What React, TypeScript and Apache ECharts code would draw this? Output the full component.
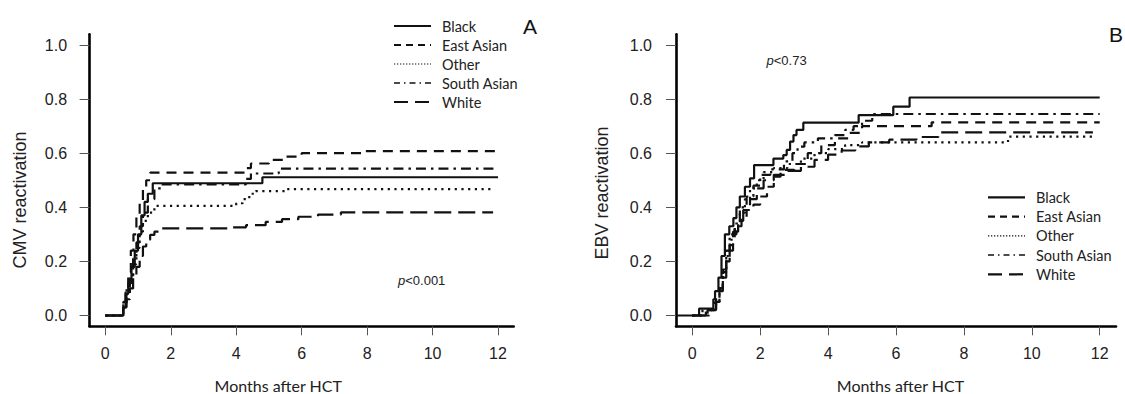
import React, { useEffect, useRef } from "react";
import * as echarts from "echarts";

// ---------- Data ----------
const groups = ["Black", "East Asian", "Other", "South Asian", "White"];
const xTicks = [0, 2, 4, 6, 8, 10, 12];
const yTicks = [0, 0.2, 0.4, 0.6, 0.8, 1.0];

// Panel A: CMV reactivation (months, cumulative incidence)
const cmvBlackT = [0, 0.55, 0.62, 0.7, 0.8, 0.9, 1.0, 1.1, 1.2, 1.3, 1.45, 4.8, 12];
const cmvBlackV = [0, 0.03, 0.08, 0.12, 0.18, 0.24, 0.3, 0.37, 0.42, 0.45, 0.489, 0.511, 0.511];
const cmvEastT = [0, 0.55, 0.62, 0.7, 0.78, 0.86, 0.95, 1.05, 1.15, 1.25, 1.37, 4.3, 4.45, 5.0, 5.5, 6.0, 7.9, 12];
const cmvEastV = [0, 0.05, 0.1, 0.16, 0.24, 0.3, 0.37, 0.42, 0.47, 0.5, 0.528, 0.545, 0.562, 0.575, 0.587, 0.6, 0.608, 0.608];
const cmvOtherT = [0, 0.55, 0.65, 0.75, 0.85, 0.95, 1.05, 1.15, 1.3, 1.5, 4.0, 4.2, 4.4, 4.6, 5.5, 11.85];
const cmvOtherV = [0, 0.04, 0.08, 0.13, 0.19, 0.25, 0.31, 0.35, 0.38, 0.405, 0.415, 0.43, 0.45, 0.46, 0.467, 0.467];
const cmvSouthT = [0, 0.55, 0.65, 0.75, 0.85, 0.95, 1.05, 1.15, 1.3, 1.5, 1.7, 4.3, 4.45, 5.3, 12];
const cmvSouthV = [0, 0.05, 0.1, 0.15, 0.21, 0.27, 0.33, 0.38, 0.43, 0.47, 0.485, 0.505, 0.525, 0.543, 0.543];
const cmvWhiteT = [0, 0.55, 0.65, 0.75, 0.85, 0.95, 1.05, 1.15, 1.25, 1.37, 1.5, 1.7, 3.9, 4.3, 4.9, 5.4, 5.9, 6.5, 7.2, 11.85];
const cmvWhiteV = [0, 0.03, 0.06, 0.1, 0.14, 0.18, 0.22, 0.255, 0.28, 0.298, 0.31, 0.322, 0.326, 0.334, 0.346, 0.356, 0.365, 0.373, 0.381, 0.381];

// Panel B: EBV reactivation
const ebvBlackT = [-0.45, 0.2, 0.62, 0.67, 0.77, 0.86, 0.96, 1.09, 1.21, 1.3, 1.4, 1.55, 1.7, 1.82, 2.39, 2.68, 2.78, 2.88, 2.98, 3.07, 3.27, 4.9, 5.92, 6.4, 12];
const ebvBlackV = [0, 0.025, 0.06, 0.09, 0.14, 0.22, 0.3, 0.33, 0.36, 0.4, 0.44, 0.476, 0.507, 0.556, 0.58, 0.593, 0.612, 0.643, 0.667, 0.686, 0.713, 0.741, 0.772, 0.806, 0.806];
const ebvEastT = [0, 0.45, 0.7, 0.8, 0.9, 1.0, 1.1, 1.2, 1.3, 1.45, 1.6, 1.8, 2.0, 2.2, 2.4, 2.6, 3.0, 3.4, 3.8, 4.2, 4.6, 5.0, 7.05, 12];
const ebvEastV = [0, 0.02, 0.05, 0.09, 0.14, 0.2, 0.24, 0.3, 0.33, 0.36, 0.39, 0.41, 0.44, 0.476, 0.513, 0.538, 0.56, 0.6, 0.63, 0.655, 0.675, 0.7, 0.714, 0.714];
const ebvOtherT = [0, 0.3, 0.65, 0.8, 0.9, 1.0, 1.1, 1.25, 1.4, 1.55, 1.7, 1.9, 2.1, 2.4, 2.8, 3.2, 3.6, 4.0, 4.5, 5.0, 9.3, 11.8];
const ebvOtherV = [0, 0.02, 0.05, 0.1, 0.16, 0.22, 0.28, 0.33, 0.38, 0.43, 0.47, 0.5, 0.53, 0.545, 0.56, 0.58, 0.6, 0.615, 0.63, 0.64, 0.661, 0.661];
const ebvSouthT = [0, 0.4, 0.7, 0.8, 0.9, 1.0, 1.1, 1.25, 1.4, 1.6, 1.8, 2.0, 2.3, 2.7, 2.95, 3.1, 3.3, 3.7, 4.2, 4.5, 4.75, 5.0, 5.3, 12];
const ebvSouthV = [0, 0.02, 0.06, 0.1, 0.17, 0.24, 0.3, 0.34, 0.4, 0.44, 0.48, 0.52, 0.54, 0.57, 0.6, 0.624, 0.64, 0.655, 0.667, 0.686, 0.7, 0.72, 0.745, 0.745];
const ebvWhiteT = [0, 0.5, 0.7, 0.8, 0.9, 1.0, 1.1, 1.2, 1.35, 1.5, 1.7, 1.9, 2.1, 2.4, 2.8, 3.2, 3.6, 4.0, 4.4, 4.8, 5.2, 5.8, 6.6, 7.25, 11.8];
const ebvWhiteV = [0, 0.02, 0.06, 0.1, 0.16, 0.21, 0.26, 0.31, 0.35, 0.39, 0.43, 0.47, 0.5, 0.52, 0.535, 0.55, 0.575, 0.595, 0.61, 0.625, 0.64, 0.65, 0.66, 0.677, 0.677];

const cmvT = [cmvBlackT, cmvEastT, cmvOtherT, cmvSouthT, cmvWhiteT];
const cmvV = [cmvBlackV, cmvEastV, cmvOtherV, cmvSouthV, cmvWhiteV];
const ebvT = [ebvBlackT, ebvEastT, ebvOtherT, ebvSouthT, ebvWhiteT];
const ebvV = [ebvBlackV, ebvEastV, ebvOtherV, ebvSouthV, ebvWhiteV];

// ---------- Styles ----------
const plotDash: any[] = ["solid", [10, 7], [2.2, 4.5], [2.5, 5, 10, 5], [17, 7]];
const legendDash: any[] = ["solid", [7, 5], [1.3, 1.7], [6, 4, 1.5, 4], [14, 7]];
const legendWidth = [2.2, 2.2, 1.2, 1.6, 2.2];
const INK = "#111";
const NUM_FONT = "Liberation Sans";
const TXT_FONT = "Lato";

function zip(t: number[], v: number[]) {
  return t.map((x, i) => [x, v[i]]);
}

function makeX(gridIndex: number) {
  return {
    type: "value",
    gridIndex,
    min: -0.48,
    max: 12.48,
    axisLine: { onZero: false, lineStyle: { color: "#000", width: 2.6 } },
    axisTick: { show: true, customValues: xTicks, length: 9, lineStyle: { color: "#555", width: 1 } },
    axisLabel: { customValues: xTicks, margin: 19, fontSize: 16, color: "#222", fontFamily: NUM_FONT },
    splitLine: { show: false },
  };
}

function makeY(gridIndex: number, margin: number) {
  return {
    type: "value",
    gridIndex,
    min: -0.04,
    max: 1.04,
    axisLine: { show: true, onZero: false, lineStyle: { color: "#000", width: 2.6 } },
    axisTick: { show: true, customValues: yTicks, length: 10, lineStyle: { color: "#555", width: 1 } },
    axisLabel: {
      customValues: yTicks,
      margin,
      fontSize: 16,
      color: "#222",
      fontFamily: NUM_FONT,
      formatter: (v: number) => v.toFixed(1),
    },
    splitLine: { show: false },
  };
}

function makeSeries(T: number[][], V: number[][], idx: number) {
  return groups.map((g, i) => ({
    name: g,
    type: "line",
    step: "end",
    xAxisIndex: idx,
    yAxisIndex: idx,
    showSymbol: false,
    symbol: "none",
    data: zip(T[i], V[i]),
    lineStyle: { color: INK, width: 2.2, type: plotDash[i], cap: "butt" },
    z: 5 - i,
  }));
}

function legendGraphics(x0: number, y0: number, gap: number) {
  const els: any[] = [];
  groups.forEach((g, i) => {
    const y = y0 + i * gap;
    els.push({
      type: "line",
      shape: { x1: x0, y1: y, x2: x0 + 37, y2: y },
      style: { stroke: INK, lineWidth: legendWidth[i], lineDash: legendDash[i] === "solid" ? null : legendDash[i] },
    });
    els.push({
      type: "text",
      x: x0 + 48,
      y,
      style: { text: g, fill: "#222", font: `14.5px ${TXT_FONT}`, verticalAlign: "middle", align: "left" },
    });
  });
  return els;
}

const graphicEls: any[] = [
  // axis titles
  {
    type: "text", x: 19.6, y: 200, rotation: Math.PI / 2,
    style: { text: "CMV reactivation", fill: "#222", font: `18px ${NUM_FONT}`, align: "center", verticalAlign: "middle" },
  },
  {
    type: "text", x: 602, y: 193, rotation: Math.PI / 2,
    style: { text: "EBV reactivation", fill: "#222", font: `18px ${NUM_FONT}`, align: "center", verticalAlign: "middle" },
  },
  {
    type: "text", x: 278.2, y: 385,
    style: { text: "Months after HCT", fill: "#222", font: `16px ${TXT_FONT}`, align: "center", verticalAlign: "middle" },
  },
  {
    type: "text", x: 900.5, y: 385,
    style: { text: "Months after HCT", fill: "#222", font: `16px ${TXT_FONT}`, align: "center", verticalAlign: "middle" },
  },
  // panel letters
  { type: "text", x: 530, y: 26, style: { text: "A", fill: "#111", font: `21px ${NUM_FONT}`, align: "center", verticalAlign: "middle" } },
  { type: "text", x: 1109, y: 34.5, style: { text: "B", fill: "#111", font: `21px ${NUM_FONT}`, align: "left", verticalAlign: "middle" } },
  // p values
  {
    type: "text", x: 398, y: 280,
    style: {
      text: "{i|p}{n|<0.001}", align: "left", verticalAlign: "middle",
      rich: {
        i: { fontStyle: "italic", fontSize: 13, fontFamily: NUM_FONT, fill: "#222" },
        n: { fontSize: 13, fontFamily: NUM_FONT, fill: "#222" },
      },
    },
  },
  {
    type: "text", x: 766.5, y: 60,
    style: {
      text: "{i|p}{n|<0.73}", align: "left", verticalAlign: "middle",
      rich: {
        i: { fontStyle: "italic", fontSize: 13, fontFamily: NUM_FONT, fill: "#222" },
        n: { fontSize: 13, fontFamily: NUM_FONT, fill: "#222" },
      },
    },
  },
  ...legendGraphics(394, 26, 19),
  ...legendGraphics(988, 197.3, 19.25),
];

export default function App() {
  const ref = useRef<HTMLDivElement>(null);
  useEffect(() => {
    if (!ref.current) return;
    const chart = echarts.init(ref.current, null, { renderer: "svg" });
    chart.setOption({
      animation: false,
      backgroundColor: "#fff",
      grid: [
        { left: 89.6, top: 34.2, width: 424.1, height: 292.1 },
        { left: 676, top: 34.2, width: 440, height: 292.1 },
      ],
      xAxis: [makeX(0), makeX(1)],
      yAxis: [makeY(0, 22.5), makeY(1, 24)],
      series: [...makeSeries(cmvT, cmvV, 0), ...makeSeries(ebvT, ebvV, 1)],
      graphic: graphicEls,
    });
    return () => chart.dispose();
  }, []);
  return (
    <div
      ref={ref}
      style={{ position: "absolute", left: 0, top: 0, width: 1125, height: 394, background: "#fff" }}
    />
  );
}
